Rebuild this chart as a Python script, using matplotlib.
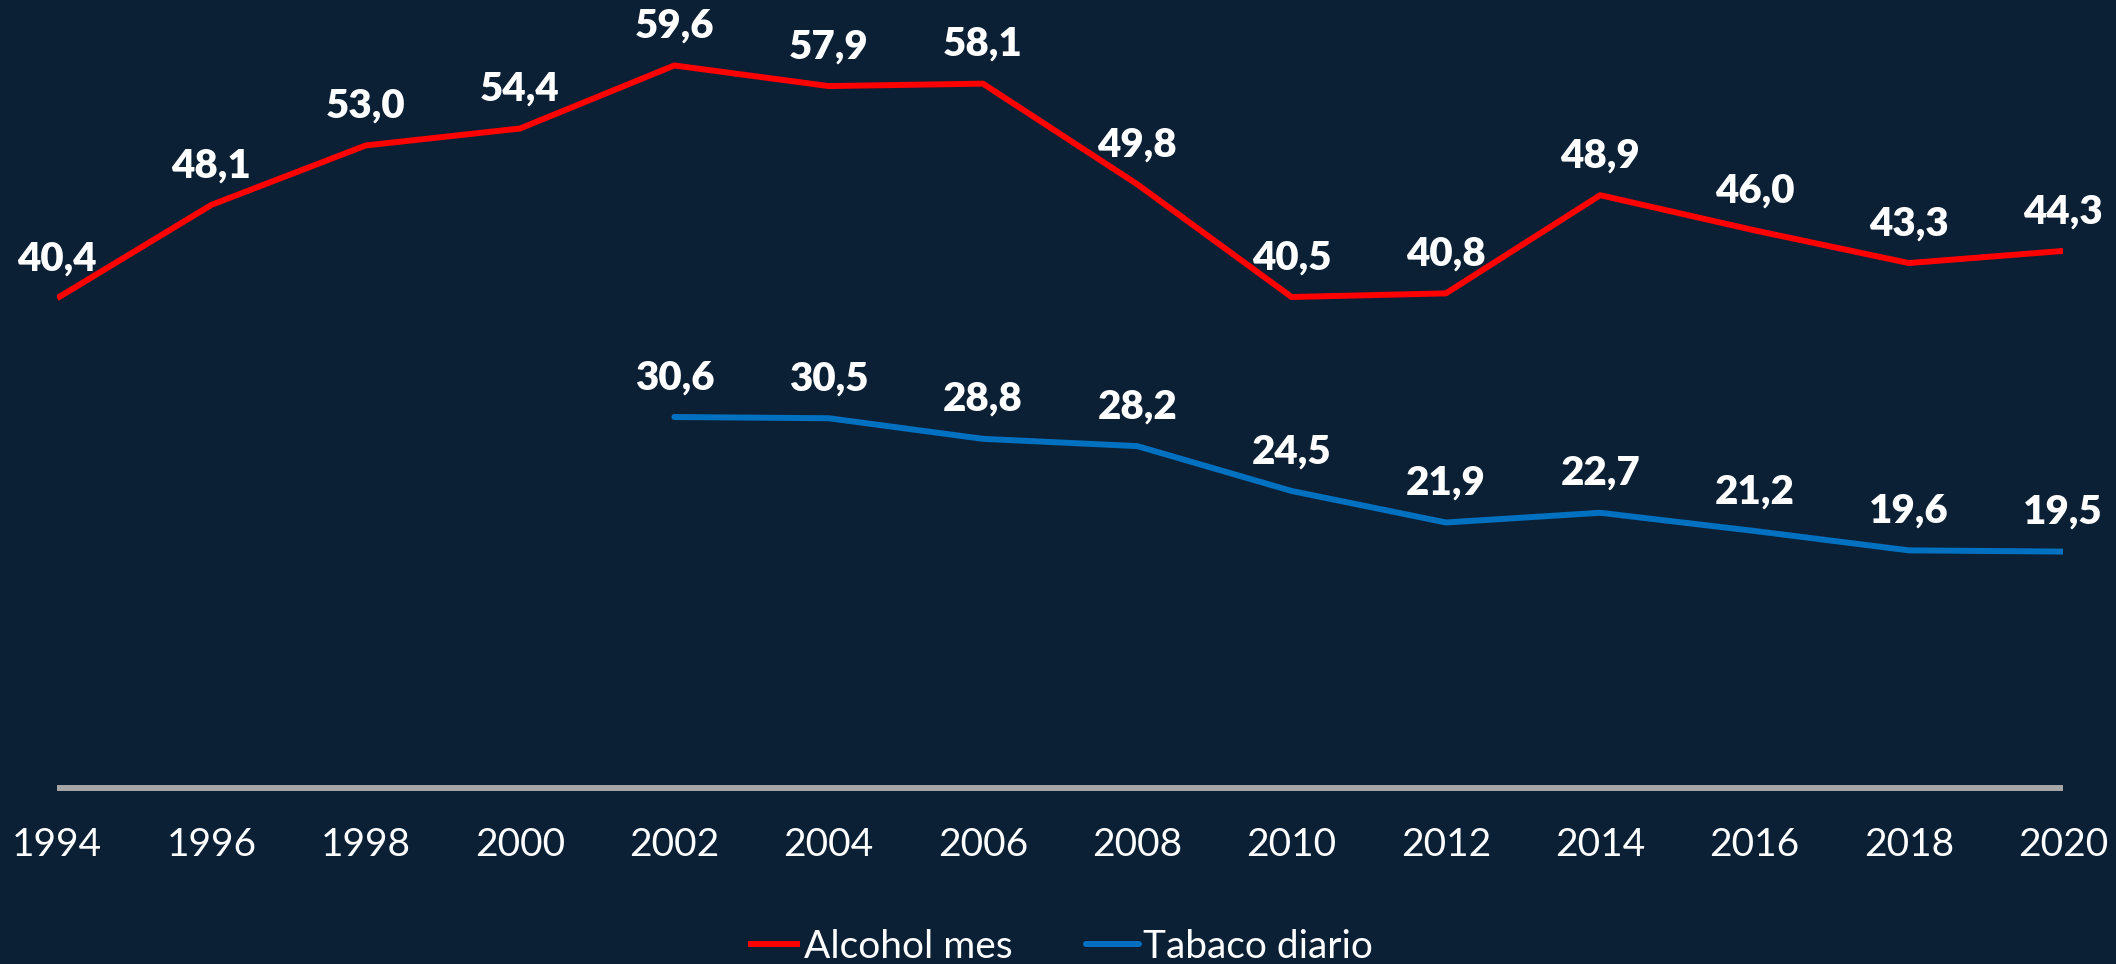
import matplotlib
matplotlib.use('Agg')
import matplotlib.pyplot as plt
import numpy as np

plt.rcParams.update({
    'font.family': ['Lato', 'DejaVu Sans'],
    'font.size': 20,
})

BG = '#0B2035'
RED = '#FF0000'
BLUE = '#0070C0'

# ── data ──
years = [1994, 1996, 1998, 2000, 2002, 2004, 2006, 2008, 2010, 2012, 2014, 2016, 2018, 2020]
alcohol_mes = [40.4, 48.1, 53.0, 54.4, 59.6, 57.9, 58.1, 49.8, 40.5, 40.8, 48.9, 46.0, 43.3, 44.3]
tabaco_diario = [None, None, None, None, 30.6, 30.5, 28.8, 28.2, 24.5, 21.9, 22.7, 21.2, 19.6, 19.5]

fig = plt.figure(figsize=(21.16, 9.64), dpi=100, facecolor=BG)
ax = fig.add_axes([0.027, 0.1826, 0.948, 0.8174], facecolor=BG)

x = np.arange(len(years))
tab = np.array([np.nan if v is None else v for v in tabaco_diario])

ax.plot(x, alcohol_mes, color=RED, lw=4.3, label='Alcohol mes', solid_capstyle='butt')
ax.plot(x, tab, color=BLUE, lw=4.3, label='Tabaco diario', solid_capstyle='round')

# etiquetas de valores
def etiqueta(xi, v):
    ax.annotate(f'{v:.1f}'.replace('.', ','), (xi, v), xytext=(0, 20),
                textcoords='offset points', ha='center', va='baseline',
                fontsize=29, fontweight='heavy', color='white')

for xi, v in zip(x, alcohol_mes):
    etiqueta(xi, v)
for xi, v in zip(x, tab):
    if not np.isnan(v):
        etiqueta(xi, v)

ax.set_xlim(0, len(years) - 1)
ax.set_ylim(0, 65)
ax.set_xticks(x)
ax.set_xticklabels([str(y) for y in years], fontsize=28, color='white')
ax.set_yticks([])
ax.tick_params(axis='x', length=0, pad=28)
for s in ['top', 'right', 'left']:
    ax.spines[s].set_visible(False)
ax.spines['bottom'].set_color('#A6A6A6')
ax.spines['bottom'].set_linewidth(4.3)
ax.spines['bottom'].set_capstyle('butt')

fig.legend(loc='center', bbox_to_anchor=(0.501, 0.018), ncol=2, frameon=False,
           fontsize=28, labelcolor='white', handlelength=1.35,
           handletextpad=0.1, columnspacing=1.9)

fig.savefig('out.png', dpi=100, facecolor=BG)
